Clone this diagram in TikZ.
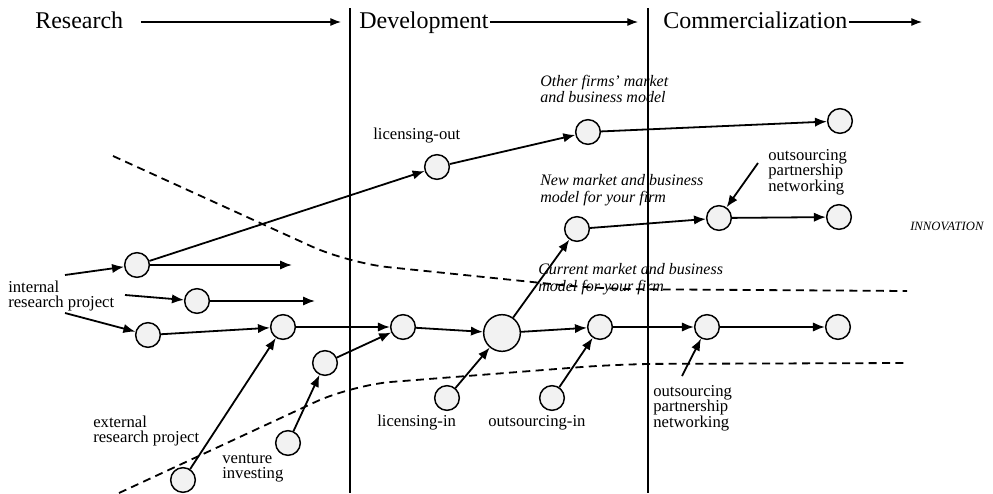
\documentclass[tikz,border=0pt]{standalone}
\usepackage{fontspec}
\setmainfont{Liberation Serif}
\usetikzlibrary{arrows.meta}
\begin{document}
\begin{tikzpicture}[x=0.75pt,y=-0.75pt,
  stage/.style={font=\fontsize{18}{20}\selectfont, inner sep=0pt, anchor=base west},
  stagearrow/.style={line width=0.8pt, -{Latex[length=8pt,width=6pt]}},
  phase/.style={line width=1.2pt},
  dot/.style={circle, draw, line width=1.1pt, fill=gray!10, inner sep=0pt, minimum size=18.5pt},
  bigdot/.style={dot, minimum size=27.5pt},
  flow/.style={line width=1.35pt, -{Latex[length=9pt,width=7pt]}},
  boundary/.style={line width=1.35pt, dash pattern=on 6pt off 4pt},
  lbl/.style={font=\fontsize{12.5}{11.5}\selectfont, align=left, inner sep=0pt, anchor=west},
  mkt/.style={font=\fontsize{12}{12.5}\selectfont\itshape, align=left, inner sep=0pt, anchor=west}
]
\useasboundingbox (0,0) rectangle (993,493);
\fill[white] (0,0) rectangle (993,493);

% stage headings
\node[stage] (hres) at (35,28) {Research};
\node[stage] (hdev) at (359,28) {Development};
\node[stage] (hcom) at (663,28) {Commercialization};
\coordinate (ares) at (341,22);
\coordinate (adev) at (638,22);
\coordinate (acom) at (922,22);
\draw[stagearrow] ([xshift=13pt]hres.east |- ares) -- (ares);
\draw[stagearrow] ([xshift=1pt]hdev.east |- adev) -- (adev);
\draw[stagearrow] ([xshift=1pt]hcom.east |- acom) -- (acom);

% stage separators
\coordinate (s1t) at (350,8);
\coordinate (s1b) at (350,493);
\coordinate (s2t) at (648,8);
\coordinate (s2b) at (648,493);
\draw[phase] (s1t) -- (s1b);
\draw[phase] (s2t) -- (s2b);

% funnel boundaries
\draw[boundary, rounded corners=30pt] (113,156) -- (348,263) -- (600,289) -- (907,291);
\draw[boundary, rounded corners=30pt] (119,493) -- (352,385) -- (620,364) -- (907,363);

% project circles
\node[dot] (A) at (137,265) {};
\node[dot] (B) at (197,301) {};
\node[dot] (C) at (148,335) {};
\node[dot] (D) at (283,327) {};
\node[dot] (E) at (325,363) {};
\node[dot] (F) at (288,443) {};
\node[dot] (G) at (183,480) {};
\node[dot] (H) at (403,327) {};
\node[bigdot] (I) at (502,333) {};
\node[dot] (J) at (600,327) {};
\node[dot] (K) at (447,398) {};
\node[dot] (L) at (552,398) {};
\node[dot] (M) at (707,327) {};
\node[dot] (N) at (838,327) {};
\node[dot] (O) at (437,167) {};
\node[dot] (P) at (588,132) {};
\node[dot] (Q) at (840,121) {};
\node[dot] (R) at (577,229) {};
\node[dot] (S) at (719,218) {};
\node[dot] (T) at (839,217) {};

% free ends
\coordinate (a0) at (65,275);
\coordinate (a1) at (292,265);
\coordinate (b0) at (125,295);
\coordinate (b1) at (315,301);
\coordinate (c0) at (65,313);
\coordinate (n0) at (758,163);
\coordinate (m0) at (682,376);

% flows
\draw[flow] (a0) -- (A);
\draw[flow] (A) -- (O);
\draw[flow] (A) -- (a1);
\draw[flow] (b0) -- (B);
\draw[flow] (B) -- (b1);
\draw[flow] (c0) -- (C);
\draw[flow] (C) -- (D);
\draw[flow] (G) -- (D);
\draw[flow] (F) -- (E);
\draw[flow] (E) -- (H);
\draw[flow] (D) -- (H);
\draw[flow] (H) -- (I);
\draw[flow] (K) -- (I);
\draw[flow] (I) -- (R);
\draw[flow] (I) -- (J);
\draw[flow] (L) -- (J);
\draw[flow] (J) -- (M);
\draw[flow] (M) -- (N);
\draw[flow] (m0) -- (M);
\draw[flow] (O) -- (P);
\draw[flow] (P) -- (Q);
\draw[flow] (R) -- (S);
\draw[flow] (S) -- (T);
\draw[flow] (n0) -- (S);

% labels
\node[lbl] (tint) at (8,296) {internal\\research project};
\node[lbl] (text) at (93,431) {external\\research project};
\node[lbl] (tven) at (222,468) {venture\\investing};
\node[lbl] (tlin) at (377,423) {licensing-in};
\node[lbl] (tout) at (488,423) {outsourcing-in};
\node[lbl] (tpnb) at (653,408) {outsourcing\\partnership\\networking};
\node[lbl] (tpnt) at (768,172) {outsourcing\\partnership\\networking};
\node[lbl] (tlout) at (373,136) {licensing-out};
\node[mkt] (mo) at (540,89) {Other firms' market\\and business model};
\node[mkt] (mn) at (540,190) {New market and business\\model for your firm};
\node[mkt] (mc) at (538,279) {Current market and business\\model for your firm};
\node[mkt, font=\fontsize{9.5}{10}\selectfont\itshape] (inn) at (910,226) {INNOVATION};
\end{tikzpicture}
\end{document}
